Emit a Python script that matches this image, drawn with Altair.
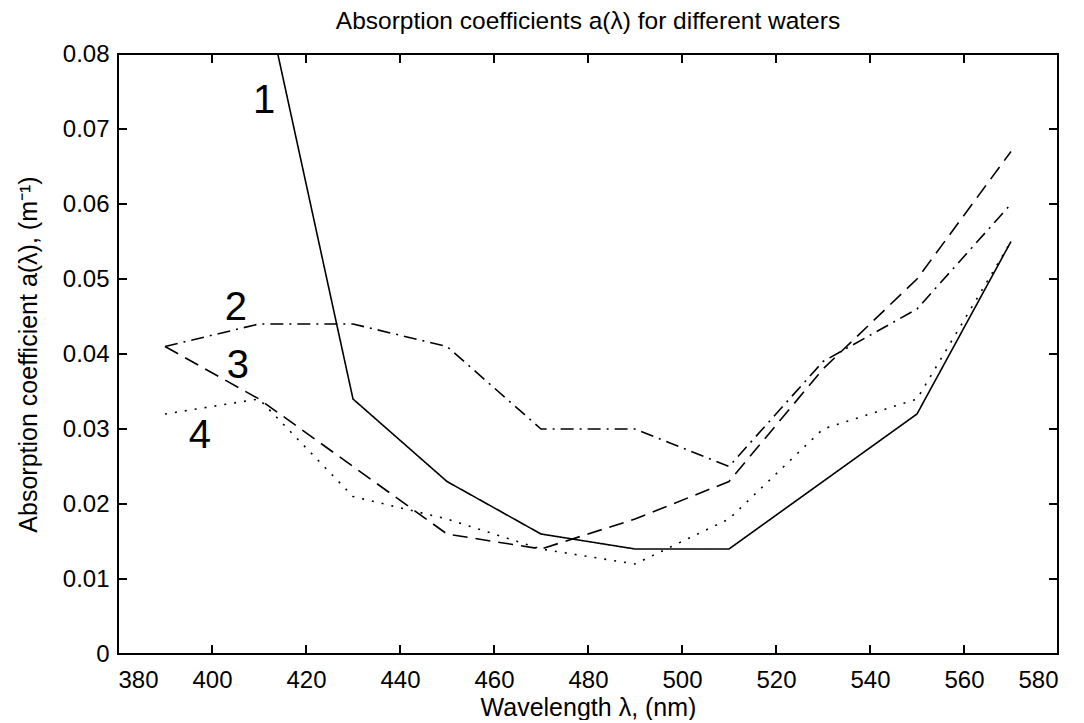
import altair as alt
import pandas as pd

# ---- data ----
wavelength = [390, 410, 430, 450, 470, 490, 510, 530, 550, 570]
water1 = [None, 0.0915, 0.034, 0.023, 0.016, 0.014, 0.014, 0.023, 0.032, 0.055]
water2 = [0.041, 0.044, 0.044, 0.041, 0.030, 0.030, 0.025, 0.039, 0.046, 0.060]
water3 = [0.041, 0.034, 0.025, 0.016, 0.014, 0.018, 0.023, 0.038, 0.050, 0.067]
water4 = [0.032, 0.034, 0.021, 0.018, 0.014, 0.012, 0.018, 0.030, 0.034, 0.055]

series_names = ["1", "2", "3", "4"]
label_x = [411.1, 405.1, 405.5, 397.4]
label_y = [0.0738, 0.0461, 0.0384, 0.0291]

x_ticks = [380, 400, 420, 440, 460, 480, 500, 520, 540, 560, 580]
y_ticks = [0, 0.01, 0.02, 0.03, 0.04, 0.05, 0.06, 0.07, 0.08]
x_range = [380, 580]
y_range = [0, 0.08]

FONT = "Liberation Sans"
W, H, TL = 940, 600, 9
# tick length expressed in data units of each scale
ty = (y_range[1] - y_range[0]) * TL / H
tx = (x_range[1] - x_range[0]) * TL / W

rows = []
for name, vals in zip(series_names, [water1, water2, water3, water4]):
    for w, v in zip(wavelength, vals):
        if v is not None:
            rows.append({"wavelength": w, "a": v, "water": name})
df = pd.DataFrame(rows)
labels_df = pd.DataFrame({"text": series_names, "x": label_x, "y": label_y})

# inward tick segments on all four sides
xt_rows = []
for t in x_ticks:
    xt_rows.append({"xt": float(t), "y1": float(y_range[0]), "y2": y_range[0] + ty})
    xt_rows.append({"xt": float(t), "y1": float(y_range[1]), "y2": y_range[1] - ty})
yt_rows = []
for t in y_ticks:
    yt_rows.append({"yt": float(t), "x1": float(x_range[0]), "x2": x_range[0] + tx})
    yt_rows.append({"yt": float(t), "x1": float(x_range[1]), "x2": x_range[1] - tx})
xt_df = pd.DataFrame(xt_rows)
yt_df = pd.DataFrame(yt_rows)

xscale = alt.Scale(domain=x_range, nice=False, zero=False)
yscale = alt.Scale(domain=y_range, nice=False, zero=False)

x_axis = alt.Axis(values=x_ticks, format="d", ticks=False, domain=False, grid=False,
                  labelFontSize=24, labelFont=FONT, labelColor="black", labelPadding=14,
                  title="Wavelength λ, (nm)", titleFontSize=25, titleFont=FONT,
                  titleFontWeight="normal", titleColor="black", titlePadding=3)
y_axis = alt.Axis(values=y_ticks, format=".2~f", ticks=False, domain=False, grid=False,
                  labelFontSize=24, labelFont=FONT, labelColor="black", labelPadding=9,
                  title="Absorption coefficient a(λ), (m⁻¹)", titleFontSize=25, titleFont=FONT,
                  titleFontWeight="normal", titleColor="black", titlePadding=21)

lines = alt.Chart(df).mark_line(clip=True, color="black", strokeWidth=1.6).encode(
    x=alt.X("wavelength:Q", scale=xscale, axis=x_axis),
    y=alt.Y("a:Q", scale=yscale, axis=y_axis),
    strokeDash=alt.StrokeDash("water:N", legend=None,
                              scale=alt.Scale(domain=series_names,
                                              range=[[1, 0], [13, 6, 2, 6], [15, 8], [2, 8]])),
    detail="water:N",
)

texts = alt.Chart(labels_df).mark_text(font=FONT, fontSize=40, color="black",
                                       baseline="middle", align="center").encode(
    x=alt.X("x:Q", scale=xscale),
    y=alt.Y("y:Q", scale=yscale),
    text="text:N",
)

xticks_layer = alt.Chart(xt_df).mark_rule(color="black", strokeWidth=2).encode(
    x=alt.X("xt:Q", scale=xscale), y=alt.Y("y1:Q", scale=yscale), y2="y2:Q")
yticks_layer = alt.Chart(yt_df).mark_rule(color="black", strokeWidth=2).encode(
    y=alt.Y("yt:Q", scale=yscale), x=alt.X("x1:Q", scale=xscale), x2="x2:Q")

frame = alt.Chart(pd.DataFrame({"k": [0]})).mark_rect(
    fill="transparent", stroke="black", strokeWidth=2).encode(
    x=alt.datum(x_range[0]), x2=alt.datum(x_range[1]),
    y=alt.datum(y_range[0]), y2=alt.datum(y_range[1]))

chart = alt.layer(lines, texts, xticks_layer, yticks_layer, frame).properties(
    width=W, height=H,
    title=alt.TitleParams("Absorption coefficients a(λ) for different waters",
                          font=FONT, fontSize=24.5, fontWeight="normal", color="black",
                          anchor="middle", offset=8),
    padding={"left": 8, "top": 0, "right": 0, "bottom": 0},
).configure_view(strokeWidth=0).configure(background="white")

chart.save("out.html", embed_options={"renderer": "svg", "actions": False})
